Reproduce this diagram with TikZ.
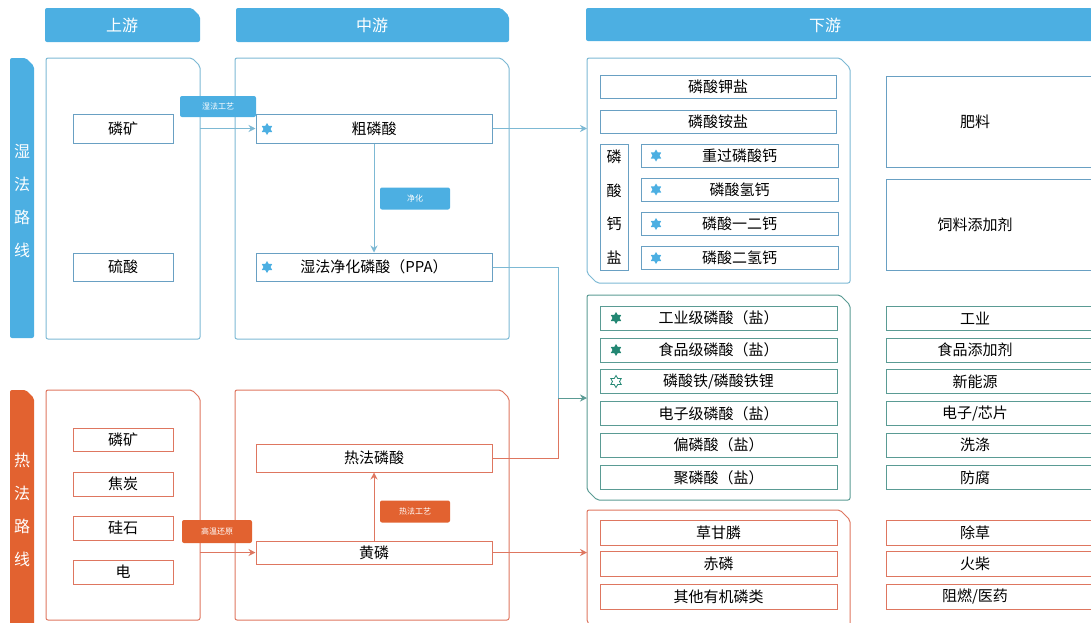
\documentclass[tikz,border=0pt]{standalone}
\usepackage{fontspec}
\setmainfont{Noto Sans CJK SC}
\usetikzlibrary{arrows.meta, shapes.geometric}

\definecolor{wetblue}{RGB}{76,175,226}
\definecolor{wetline}{RGB}{125,185,212}
\definecolor{wetbox}{RGB}{105,160,195}
\definecolor{hotred}{RGB}{226,98,48}
\definecolor{hotline}{RGB}{222,118,96}
\definecolor{tealline}{RGB}{90,155,148}
\definecolor{tealstar}{RGB}{35,135,115}

% panel with chamfered top-right corner
\newcommand{\chamferbox}[5]{\path[#1, rounded corners=2pt] (#4,#5) -- (#2,#5) -- (#2,#3) -- ({#4-8},#3) -- (#4,{#3+8}) -- cycle;}
% downstream panel, chamfered top-right and bottom-left
\newcommand{\cutbox}[5]{\path[#1, rounded corners=2pt] (#4,#5) -- ({#2+10},#5) -- (#2,{#5-10}) -- (#2,#3) -- ({#4-10},#3) -- (#4,{#3+10}) -- cycle;}

\begin{document}
\begin{tikzpicture}[x=1pt, y=-1pt, >={Stealth[length=7pt, width=7pt]},
    box/.style={draw, line width=1pt, inner sep=0pt, font=\fontsize{15}{18}\selectfont},
    wbox/.style={box, draw=wetbox},
    obox/.style={box, draw=hotline},
    gbox/.style={box, draw=tealline},
    rtext/.style={xshift=-18pt, font=\fontsize{15}{18}\selectfont},
    tag/.style={rounded corners=2pt, text=white, inner sep=0pt, minimum width=70pt, minimum height=22pt, font=\fontsize{8}{9}\selectfont},
    head/.style={text=white, font=\fontsize{16}{18}\selectfont},
    side/.style={text=white, align=center, font=\fontsize{16}{33}\selectfont},
    bluestar/.style={star, star points=6, star point ratio=1.7, minimum size=12pt, inner sep=0pt, fill=wetblue},
    tealstarf/.style={bluestar, fill=tealstar},
    tealstaro/.style={bluestar, fill=white, draw=tealstar, line width=0.8pt}]
  \clip (0,0) rectangle (1091,622);

  % headers and side bars
  \chamferbox{fill=wetblue}{45}{8}{200}{42}
  \chamferbox{fill=wetblue}{236}{8}{509}{42}
  \chamferbox{fill=wetblue}{586}{8}{1100}{41}
  \node[head] (hup) at (122,25) {上游};
  \node[head] (hmid) at (372,25) {中游};
  \node[head] (hdown) at (825,25) {下游};
  \chamferbox{fill=wetblue}{10}{58}{34}{338}
  \chamferbox{fill=hotred}{10}{390}{34}{625}
  \node[side] (wside) at (22,201) {湿\\法\\路\\线};
  \node[side] (hside) at (22,510) {热\\法\\路\\线};

  % panels
  \chamferbox{draw=wetline, line width=1pt}{46}{58}{200}{339}
  \chamferbox{draw=wetline, line width=1pt}{235}{58}{509}{339}
  \chamferbox{draw=hotline, line width=1pt}{46}{390}{200}{620}
  \chamferbox{draw=hotline, line width=1pt}{235}{390}{509}{620}
  \cutbox{draw=wetline, line width=1pt}{587}{58}{850}{283}
  \cutbox{draw=tealline, line width=1pt}{587}{295}{850}{500}
  \cutbox{draw=hotline, line width=1pt}{587}{510}{850}{632}

  % upstream
  \node[wbox, minimum width=100pt, minimum height=29pt] (wore) at (123,128.5) {磷矿};
  \node[wbox, minimum width=100pt, minimum height=28pt] (acid) at (123,267) {硫酸};
  \node[obox, minimum width=100pt, minimum height=23pt] (hore) at (123,439.5) {磷矿};
  \node[obox, minimum width=100pt, minimum height=24pt] (coke) at (123,484) {焦炭};
  \node[obox, minimum width=100pt, minimum height=24pt] (silica) at (123,528) {硅石};
  \node[obox, minimum width=100pt, minimum height=24pt] (power) at (123,572) {电};

  % midstream
  \node[wbox, minimum width=236pt, minimum height=29pt] (crude) at (374,128.5) {粗磷酸};
  \node[bluestar] (s1) at (267,129) {};
  \node[wbox, minimum width=236pt, minimum height=28pt] (ppa) at (374,267) {湿法净化磷酸（PPA）};
  \node[bluestar] (s2) at (267,267) {};
  \node[obox, minimum width=236pt, minimum height=28pt] (hacid) at (374,458) {热法磷酸};
  \node[obox, minimum width=236pt, minimum height=23pt] (yp) at (374,552.5) {黄磷};

  % downstream, wet
  \node[wbox, minimum width=236pt, minimum height=23pt] (kp) at (718,87) {磷酸钾盐};
  \node[wbox, minimum width=236pt, minimum height=23pt] (np) at (718,121.5) {磷酸铵盐};
  \node[wbox, minimum width=28pt, minimum height=126pt, align=center, font=\fontsize{15}{33.5}\selectfont] (cap) at (614,207) {磷\\酸\\钙\\盐};
  \node[wbox, minimum width=197pt, minimum height=23pt] (tsp) at (739.5,155.5) {重过磷酸钙};
  \node[wbox, minimum width=197pt, minimum height=23pt] (dcp) at (739.5,189.5) {磷酸氢钙};
  \node[wbox, minimum width=197pt, minimum height=23pt] (mdcp) at (739.5,224) {磷酸一二钙};
  \node[wbox, minimum width=197pt, minimum height=23pt] (mcp) at (739.5,258) {磷酸二氢钙};
  \foreach \y in {155.5, 189.5, 224, 258}
    \node[bluestar] at (656,\y) {};
  \node[wbox, minimum width=214pt, minimum height=91pt, label={[rtext]center:肥料}] (fert) at (993,121.5) {};
  \node[wbox, minimum width=214pt, minimum height=91pt, label={[rtext]center:饲料添加剂}] (feed) at (993,224.5) {};

  % downstream, purified acid
  \node[gbox, minimum width=237pt, minimum height=24pt] (ind) at (718.5,318) {工业级磷酸（盐）};
  \node[gbox, minimum width=237pt, minimum height=24pt] (food) at (718.5,350) {食品级磷酸（盐）};
  \node[gbox, minimum width=237pt, minimum height=24pt] (lfp) at (718.5,381.5) {磷酸铁/磷酸铁锂};
  \node[gbox, minimum width=237pt, minimum height=24pt] (elec) at (718.5,413.5) {电子级磷酸（盐）};
  \node[gbox, minimum width=237pt, minimum height=24pt] (meta) at (718.5,445) {偏磷酸（盐）};
  \node[gbox, minimum width=237pt, minimum height=24pt] (poly) at (718.5,477.5) {聚磷酸（盐）};
  \node[tealstarf] (s3) at (616,318) {};
  \node[tealstarf] (s4) at (616,350) {};
  \node[tealstaro] (s5) at (616,381.5) {};
  \node[gbox, minimum width=214pt, minimum height=24pt, label={[rtext]center:工业}] (uind) at (993,318) {};
  \node[gbox, minimum width=214pt, minimum height=24pt, label={[rtext]center:食品添加剂}] (ufood) at (993,350) {};
  \node[gbox, minimum width=214pt, minimum height=24pt, label={[rtext]center:新能源}] (unew) at (993,381.5) {};
  \node[gbox, minimum width=214pt, minimum height=24pt, label={[rtext]center:电子/芯片}] (uchip) at (993,413.5) {};
  \node[gbox, minimum width=214pt, minimum height=24pt, label={[rtext]center:洗涤}] (uwash) at (993,445) {};
  \node[gbox, minimum width=214pt, minimum height=24pt, label={[rtext]center:防腐}] (ucorr) at (993,477.5) {};

  % downstream, yellow phosphorus
  \node[obox, minimum width=237pt, minimum height=25pt] (gly) at (718.5,532.5) {草甘膦};
  \node[obox, minimum width=237pt, minimum height=25pt] (redp) at (718.5,563.5) {赤磷};
  \node[obox, minimum width=237pt, minimum height=25pt] (org) at (718.5,596.5) {其他有机磷类};
  \node[obox, minimum width=214pt, minimum height=25pt, label={[rtext]center:除草}] (uherb) at (993,532.5) {};
  \node[obox, minimum width=214pt, minimum height=25pt, label={[rtext]center:火柴}] (umatch) at (993,563.5) {};
  \node[obox, minimum width=214pt, minimum height=25pt, label={[rtext]center:阻燃/医药}] (umed) at (993,596.5) {};

  % connectors
  \coordinate (wout) at (200,128.5);
  \coordinate (hout) at (200,552.5);
  \coordinate (din) at (587,128.5);
  \coordinate (merge) at (558,398);
  \coordinate (gin) at (587,398);
  \coordinate (oin) at (587,552.5);
  \draw[->, wetline, line width=1pt] (wout) -- (crude.west);
  \draw[->, wetline, line width=1pt] (crude.south) -- (ppa.north);
  \draw[->, wetline, line width=1pt] (crude.east) -- (din);
  \draw[wetline, line width=1pt] (ppa.east) -| (merge);
  \draw[hotline, line width=1pt] (hacid.east) -| (merge);
  \draw[->, tealline, line width=1pt] (merge) -- (gin);
  \draw[->, hotline, line width=1pt] (hout) -- (yp.west);
  \draw[->, hotline, line width=1pt] (yp.north) -- (hacid.south);
  \draw[->, hotline, line width=1pt] (yp.east) -- (oin);

  % process tags
  \node[tag, fill=wetblue, minimum width=76pt, minimum height=21pt] (twet) at (218,106.5) {湿法工艺};
  \node[tag, fill=wetblue] (tpur) at (415,198.5) {净化};
  \node[tag, fill=hotred, minimum height=23pt] (thigh) at (217,531.5) {高温还原};
  \node[tag, fill=hotred] (thot) at (415,511.5) {热法工艺};
\end{tikzpicture}
\end{document}
